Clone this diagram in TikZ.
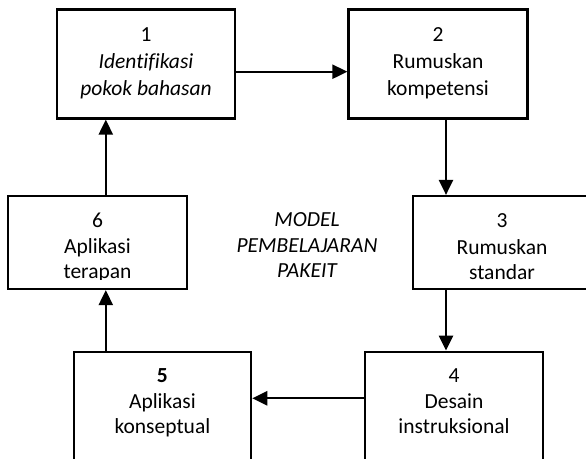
\documentclass[tikz,border=0pt]{standalone}
\usepackage{fontspec}
\setmainfont[Ligatures=NoCommon]{Carlito}
\usetikzlibrary{arrows.meta}
\tikzset{
  box/.style={draw=black, line width=2.2pt, minimum width=178pt, inner sep=0pt},
  lbl/.style={anchor=base, inner sep=0pt, font=\fontsize{21.5}{26}\selectfont},
  arr/.style={line width=2.3pt, -{Triangle[length=15pt,width=14pt]}},
}
\begin{document}
\begin{tikzpicture}[x=1pt,y=-1pt]
\useasboundingbox (0,0) rectangle (586,458);
\clip (0,0) rectangle (586,458);
% boxes
\node[box, minimum height=109pt] (b1) at (146,64) {};
\node[box, minimum height=109pt, minimum width=179pt] (b2) at (438,64) {};
\node[box, minimum height=93pt] (b3) at (502,242.5) {};
\node[box, minimum height=93pt, minimum width=179pt] (b6) at (97.5,242.5) {};
\node[box, minimum height=120pt, minimum width=177.5pt] (b5) at (162.4,411.7) {};
\node[box, minimum height=120pt] (b4) at (454,411.7) {};
% texts
\node[lbl] (t1a) at (146,41) {1};
\node[lbl] (t1b) at (146,68) {\itshape Identifikasi};
\node[lbl] (t1c) at (146,95) {\itshape pokok bahasan};
\node[lbl] (t2a) at (438,41) {2};
\node[lbl] (t2b) at (438,68) {Rumuskan};
\node[lbl] (t2c) at (438,95) {kompetensi};
\node[lbl] (t3a) at (502,227) {3};
\node[lbl] (t3b) at (502,254) {Rumuskan};
\node[lbl] (t3c) at (502,279.5) {standar};
\node[lbl] (t6a) at (97.5,227) {6};
\node[lbl] (t6b) at (97.5,253.5) {Aplikasi};
\begin{scope}
\clip (10,260) rectangle (185,279.5);
\node[lbl] (t6c) at (97.5,278.5) {terapan};
\end{scope}
\node[lbl] (t5a) at (162.4,382) {\bfseries 5};
\node[lbl] (t5b) at (162.4,408.3) {Aplikasi};
\node[lbl] (t5c) at (162.4,433.5) {konseptual};
\node[lbl] (t4a) at (454,382) {4};
\node[lbl] (t4b) at (454,408.3) {Desain};
\node[lbl] (t4c) at (454,433.5) {instruksional};
\node[lbl] (m1) at (307,226) {\itshape MODEL};
\node[lbl] (m2) at (307,252) {\itshape PEMBELAJARAN};
\node[lbl] (m3) at (307,277.5) {\itshape PAKEIT};
% connector guides
\coordinate (h12) at (0,71.7);
\coordinate (v23) at (446,0);
\coordinate (h45) at (0,398.3);
\coordinate (v56) at (105.8,0);
% connectors
\draw[arr] (b1.east |- h12) -- (b2.west |- h12);
\draw[arr] (b2.south -| v23) -- (b3.north -| v23);
\draw[arr] (b3.south -| v23) -- (b4.north -| v23);
\draw[arr] (b4.west |- h45) -- (b5.east |- h45);
\draw[arr] (b5.north -| v56) -- (b6.south -| v56);
\draw[arr] (b6.north -| v56) -- (b1.south -| v56);
\end{tikzpicture}
\end{document}
